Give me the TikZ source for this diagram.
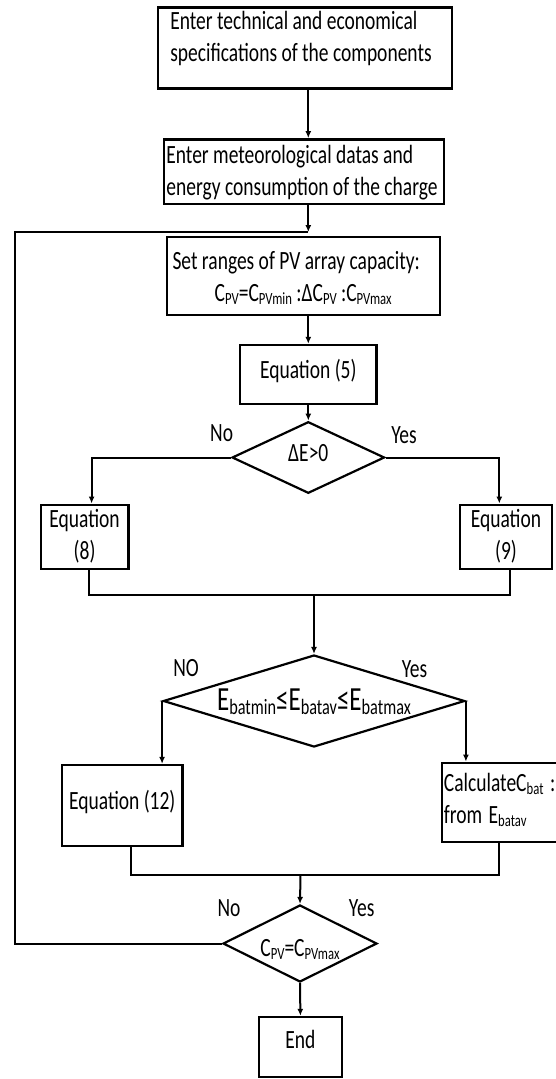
\documentclass[tikz,border=0pt]{standalone}
\usepackage{fontspec}
\setmainfont{Carlito}
\usepackage{graphicx}
\usetikzlibrary{shapes.geometric,arrows.meta}
\newcommand{\vt}[3][0pt]{\raisebox{#1}[\height][\depth]{\scalebox{1}[1.35]{\begin{tabular}{@{}#2@{}}#3\end{tabular}}}}
\newcommand{\vz}[2][0pt]{\makebox[0pt]{\raisebox{#1}[0pt][0pt]{\scalebox{1}[1.35]{#2}}}}
\newcommand{\sbs}[1]{\raisebox{-0.12em}{\scalebox{0.65}{#1}}}
\begin{document}
\begin{tikzpicture}[x=1pt,y=-1pt,line width=2pt,>={Latex[length=7pt,width=6pt]},
    font=\fontsize{19.5}{23.7}\selectfont,
    stepbox/.style={draw,rectangle,line width=2.4pt,inner sep=0pt},
    testbox/.style={draw,diamond,line width=2.2pt,inner sep=0pt},
    answer/.style={inner sep=0pt}]
        \path[use as bounding box,clip] (0,0) rectangle (556,1079);
        %boxes
        \node[stepbox,minimum width=294.3pt,minimum height=81pt] (spec) at (305,47.8)
            {\vt[8.8pt]{l}{Enter technical and economical\\specifications of the components\hspace*{8pt}}};
        \node[stepbox,minimum width=280.5pt,minimum height=64.7pt] (meteo) at (304,171.7)
            {\vt[-1.8pt]{l}{Enter meteorological datas and\\energy consumption of the charge\hspace*{4pt}}};
        \node[stepbox,minimum width=273pt,minimum height=78.3pt] (ranges) at (303.2,275.9)
            {\vt[-2.7pt]{l}{Set ranges of PV array capacity:\hspace*{14pt}\\
             \multicolumn{1}{@{}c@{}}{C\sbs{PV}=C\sbs{PVmin} :ΔC\sbs{PV} :C\sbs{PVmax}}}};
        \node[stepbox,minimum width=136.6pt,minimum height=59pt] (eq5) at (308.3,374.5)
            {\vt[2.8pt]{c}{Equation (5)}};
        \node[stepbox,minimum width=87.6pt,minimum height=61.3pt] (eq8) at (84.6,536.7)
            {\vt{c}{Equation\\(8)}};
        \node[stepbox,minimum width=92.2pt,minimum height=61.3pt] (eq9) at (506,536.7)
            {\vt{c}{Equation\\(9)}};
        \node[stepbox,minimum width=120.6pt,minimum height=80.7pt] (eq12) at (122.3,805.4)
            {\vt[2.7pt]{c}{Equation (12)}};
        \node[stepbox,minimum width=138.3pt,minimum height=79.3pt,text width=134pt,align=left,inner xsep=2pt] (calc) at (510.9,802.4)
            {\vt[1.5pt]{l}{CalculateC\sbs{bat} :\\from E\sbs{batav}}};
        \node[stepbox,minimum width=82.7pt,minimum height=60pt] (end) at (300.4,1047)
            {\vt[5pt]{c}{End}};
        %decisions
        \node[testbox,minimum width=152.5pt,minimum height=71.6pt] (d1) at (308.3,457.5)
            {\vz[-4.4pt]{ΔE>0}};
        \node[testbox,minimum width=301.6pt,minimum height=92pt,font=\fontsize{25}{30}\selectfont] (d2) at (314,701)
            {\vz[-9pt]{E\sbs{batmin}≤E\sbs{batav}≤E\sbs{batmax}}};
        \node[testbox,minimum width=154pt,minimum height=77pt] (d3) at (300,943.5)
            {\vz[-12.9pt]{C\sbs{PV}=C\sbs{PVmax}}};
        %labels
        \node[answer] (no1) at (221.6,435) {\vt{c}{No}};
        \node[answer] (yes1) at (404,437) {\vt{c}{Yes}};
        \node[answer] (no2) at (186,670) {\vt{c}{NO}};
        \node[answer] (yes2) at (414.5,670.7) {\vt{c}{Yes}};
        \node[answer] (no3) at (229,910) {\vt{c}{No}};
        \node[answer] (yes3) at (361.7,910) {\vt{c}{Yes}};
        %junctions
        \coordinate (join) at ([yshift=3.5pt]ranges.north -| eq5);
        \coordinate (loopc) at (join -| 15,0);
        \coordinate (m1) at (314,595);
        \coordinate (m2) at (300.5,875);
        %connectors
        \draw[->] (spec.south -| eq5) -- (meteo.north -| eq5);
        \draw[->] (meteo.south -| eq5) -- (join);
        \draw[->] (ranges.south -| eq5) -- (eq5.north);
        \draw[->] (eq5) -- (d1);
        \draw[->] (d1.west) -| ([xshift=7pt]eq8.north);
        \draw[->] (d1.east) -| ([xshift=-6.7pt]eq9.north);
        \draw ([xshift=4pt]eq8.south) |- (m1) -| ([xshift=3.6pt]eq9.south);
        \draw[->] (m1) -- (d2.north);
        \draw[->] (d2.west) -- (d2.west |- eq12.north);
        \draw[->] (d2.east) -- (d2.east |- calc.north);
        \draw ([xshift=9pt]eq12.south) |- (m2) -| ([xshift=-11.6pt]calc.south);
        \draw[->] (m2) -- (d3.north);
        \draw (d3.west) -| (loopc) -- (join);
        \draw[->] (d3.south) -- (end.north);
    \end{tikzpicture}
\end{document}
